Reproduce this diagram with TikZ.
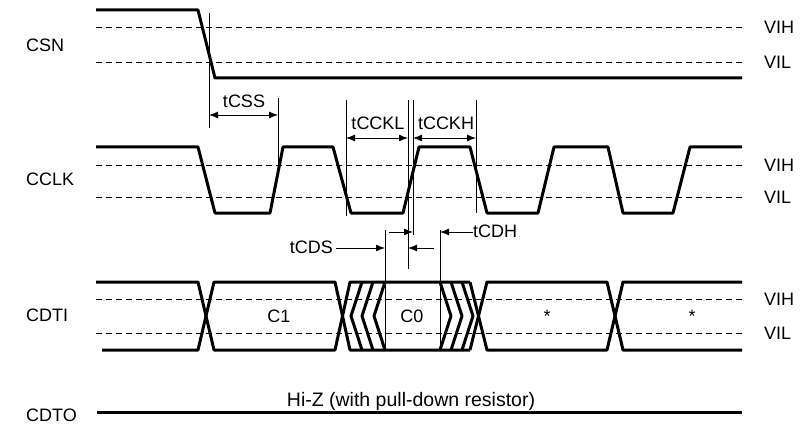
\documentclass[tikz,border=0pt]{standalone}
\usepackage{fontspec}
\setmainfont{Liberation Sans}
\usetikzlibrary{arrows.meta}
\begin{document}
\begin{tikzpicture}[x=1pt,y=-1pt,
  sig/.style={line width=3pt,line join=round},
  dsh/.style={line width=0.9pt,dash pattern=on 6pt off 4pt},
  ref/.style={line width=0.9pt},
  dim/.style={line width=0.9pt},
  tip/.style={-{Latex[length=9pt,width=7pt]}},
  tips/.style={{Latex[length=9pt,width=7pt]}-{Latex[length=9pt,width=7pt]}},
  lbl/.style={inner sep=0pt,font=\fontsize{18}{20}\selectfont}]
\useasboundingbox (0,0) rectangle (801,425);

% signal names
\node[lbl,anchor=west] (csn)  at (26,45)  {CSN};
\node[lbl,anchor=west] (cclk) at (26,179) {CCLK};
\node[lbl,anchor=west] (cdti) at (26,315) {CDTI};
\node[lbl,anchor=west] (cdto) at (26,415) {CDTO};

% threshold labels
\node[lbl,anchor=west] (vih1) at (764,27)  {VIH};
\node[lbl,anchor=west] (vil1) at (764,62)  {VIL};
\node[lbl,anchor=west] (vih2) at (764,165) {VIH};
\node[lbl,anchor=west] (vil2) at (764,197) {VIL};
\node[lbl,anchor=west] (vih3) at (764,299) {VIH};
\node[lbl,anchor=west] (vil3) at (764,333) {VIL};

% dashed threshold lines
\foreach \y in {27,62,165,197,299,333}
  \draw[dsh] (96,\y) -- (742,\y);

% CSN
\draw[sig] (96,10) -- (198,10) -- (215,78) -- (742,78);

% CCLK
\draw[sig] (96,147) -- (198,147) -- (215,213) -- (270,213) -- (283,147)
  -- (333,147) -- (351,213) -- (403,213) -- (419,147) -- (470,147)
  -- (487,213) -- (538,213) -- (554,147) -- (608,147) -- (623,213)
  -- (673,213) -- (690,147) -- (742,147);

% CDTI
\draw[sig] (96,282) -- (198,282) -- (214,350) -- (335,350) -- (350,282) -- (470,282);
\draw[sig] (102,350) -- (198,350) -- (214,282) -- (335,282) -- (350,350) -- (470,350);
\foreach \a in {362,373,385}
  \draw[sig] (\a,282) -- (\a-11,316) -- (\a,350);
\foreach \a in {440,451,462}
  \draw[sig] (\a,282) -- (\a+11,316) -- (\a,350);
\draw[sig] (470,282) -- (487,350) -- (607,350) -- (623,282) -- (742,282);
\draw[sig] (470,350) -- (487,282) -- (607,282) -- (623,350) -- (742,350);
\node[lbl] (c1) at (279,316) {C1};
\node[lbl] (c0) at (412,316) {C0};
\node[lbl] (s1) at (547,316) {*};
\node[lbl] (s2) at (692,316) {*};

% CDTO
\draw[sig] (97,412) -- (742,412);
\node[lbl,font=\fontsize{19.5}{21}\selectfont] (hiz) at (411,401) {Hi-Z (with pull-down resistor)};

% reference lines
\draw[ref] (209,13) -- (209,128);
\draw[ref] (278,98) -- (278,166);
\draw[ref] (346,100) -- (346,216);
\draw[ref] (408,100) -- (408,269);
\draw[ref] (413,100) -- (413,235);
\draw[ref] (476,100) -- (476,213);
\draw[ref] (385,230) -- (385,350);
\draw[ref] (440,230) -- (440,350);

% tCSS
\coordinate (a1) at (209,115); \coordinate (a2) at (278,115);
\draw[dim,tips] (a1) -- (a2);
\node[lbl] (tcss) at (244,101) {tCSS};
% tCCKL / tCCKH
\coordinate (b1) at (346,138); \coordinate (b2) at (408,138);
\coordinate (b3) at (413,138); \coordinate (b4) at (476,138);
\draw[dim,tips] (b1) -- (b2);
\draw[dim,tips] (b3) -- (b4);
\node[lbl] (tcckl) at (378,123) {tCCKL};
\node[lbl] (tcckh) at (446,123) {tCCKH};
% tCDS
\node[lbl,anchor=east] (tcds) at (333,247) {tCDS};
\coordinate (d1) at (385,248); \coordinate (d2) at (434,248); \coordinate (d3) at (408,248);
\draw[dim,tip] (tcds.east |- d1) ++(3,0) -- (d1);
\draw[dim,tip] (d2) -- (d3);
% tCDH
\node[lbl,anchor=west] (tcdh) at (473,231) {tCDH};
\coordinate (e1) at (389,232); \coordinate (e2) at (413,232); \coordinate (e3) at (440,232);
\draw[dim,tip] (e1) -- (e2);
\draw[dim,tip] (tcdh.west |- e3) -- (e3);
\end{tikzpicture}
\end{document}
